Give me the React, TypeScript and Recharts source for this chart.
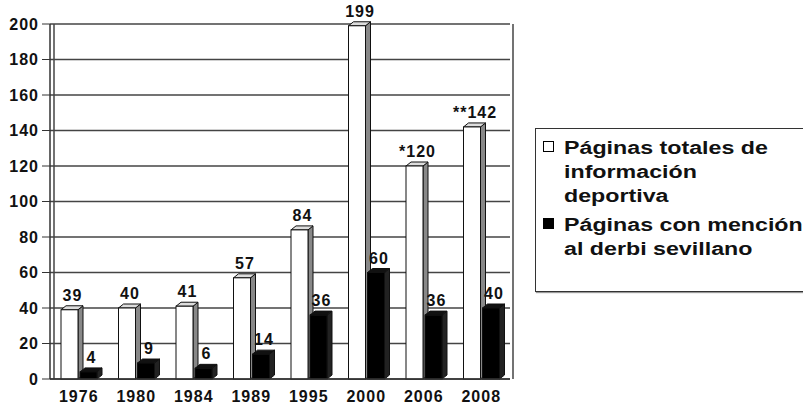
import React from 'react';
import { BarChart, Bar, XAxis, YAxis, CartesianGrid, LabelList } from 'recharts';

// Years on the x axis
const years = ['1976', '1980', '1984', '1989', '1995', '2000', '2006', '2008'];
// Total sports pages
const totalPages = [39, 40, 41, 57, 84, 199, 120, 142];
const totalLabels = ['39', '40', '41', '57', '84', '199', '*120', '**142'];
// Pages mentioning the Seville derby
const derbiPages = [4, 9, 6, 14, 36, 60, 36, 40];
const derbiLabels = ['4', '9', '6', '14', '36', '60', '36', '40'];
const yTicks = [0, 20, 40, 60, 80, 100, 120, 140, 160, 180, 200];

const data = years.map((year, i) => ({
  year,
  total: totalPages[i],
  derbi: derbiPages[i],
  totalLabel: totalLabels[i],
  derbiLabel: derbiLabels[i],
}));

const FONT = '"Liberation Sans", Arial, sans-serif';
const DX = 5;
const DY = 4;

// bar with a fake 3D top and side, like the old Excel chart
const makeBar3D = (front: string, top: string, side: string) => (props: any) => {
  const { x, y, width, height } = props;
  if (height == null || height <= 0) return null;
  const topPts = `${x},${y} ${x + DX},${y - DY} ${x + width + DX},${y - DY} ${x + width},${y}`;
  const sidePts = `${x + width},${y} ${x + width + DX},${y - DY} ${x + width + DX},${y + height - DY} ${x + width},${y + height}`;
  return (
    <g>
      <polygon points={sidePts} fill={side} stroke="#111" strokeWidth={1} />
      <polygon points={topPts} fill={top} stroke="#111" strokeWidth={1} />
      <rect x={x} y={y} width={width} height={height} fill={front} stroke="#111" strokeWidth={1} />
    </g>
  );
};

const renderLabel = (props: any) => {
  const { x, y, width, value } = props;
  return (
    <text
      x={x + width / 2 + 3}
      y={y - 9}
      textAnchor="middle"
      fontFamily={FONT}
      fontWeight="bold"
      fontSize={16}
      letterSpacing={1}
      fill="#111"
    >
      {value}
    </text>
  );
};

const legendItems = [
  { fill: '#fff', lines: ['Páginas totales de', 'información', 'deportiva'] },
  { fill: '#000', lines: ['Páginas con mención', 'al derbi sevillano'] },
];

const App: React.FC = () => {
  return (
    <div style={{ position: 'absolute', left: 0, top: 0, width: 803, height: 408, overflow: 'hidden', background: '#fff' }}>
      <BarChart
        width={803}
        height={408}
        data={data}
        margin={{ top: 24, right: 293, left: 0, bottom: 4 }}
        barSize={17}
        barGap={2}
      >
        <CartesianGrid
          stroke="#444"
          strokeWidth={1.5}
          verticalCoordinatesGenerator={({ offset }: any) => [offset.left + 4, offset.left + offset.width + 3]}
        />
        <XAxis
          dataKey="year"
          height={25}
          tickLine={false}
          axisLine={{ stroke: '#333', strokeWidth: 1.5 }}
          tick={{ fontFamily: FONT, fontWeight: 'bold', fontSize: 16, fill: '#111', letterSpacing: 1 }}
          tickMargin={6}
        />
        <YAxis
          width={50}
          domain={[0, 200]}
          ticks={yTicks}
          interval={0}
          tickSize={8}
          tickMargin={3}
          axisLine={{ stroke: '#333', strokeWidth: 1.5 }}
          tickLine={{ stroke: '#333' }}
          tick={{ fontFamily: FONT, fontWeight: 'bold', fontSize: 16, fill: '#111', letterSpacing: 1 }}
        />
        <Bar dataKey="total" isAnimationActive={false} shape={makeBar3D('#fff', '#ddd', '#888')}>
          <LabelList dataKey="totalLabel" content={renderLabel} />
        </Bar>
        <Bar dataKey="derbi" isAnimationActive={false} shape={makeBar3D('#000', '#111', '#222')}>
          <LabelList dataKey="derbiLabel" content={renderLabel} />
        </Bar>
      </BarChart>
      <div
        style={{
          position: 'absolute',
          left: 535,
          top: 128,
          width: 290,
          height: 164,
          border: '1.5px solid #333',
          boxShadow: '1px 1px 1px #999',
          boxSizing: 'border-box',
        }}
      >
        {legendItems.map((item, i) => (
          <div key={i} style={{ position: 'absolute', left: 7, top: i === 0 ? 7 : 84 }}>
            <div
              style={{
                position: 'absolute',
                left: 0,
                top: 5,
                width: 9,
                height: 9,
                background: item.fill,
                border: '1px solid #000',
              }}
            />
            <div
              style={{
                position: 'absolute',
                left: 21,
                top: 0,
                whiteSpace: 'nowrap',
                fontFamily: FONT,
                fontWeight: 'bold',
                fontSize: 18,
                lineHeight: '24px',
                color: '#111',
                transform: 'scaleX(1.29)',
                transformOrigin: 'left top',
              }}
            >
              {item.lines.map((l, j) => (
                <div key={j}>{l}</div>
              ))}
            </div>
          </div>
        ))}
      </div>
    </div>
  );
};

export default App;
